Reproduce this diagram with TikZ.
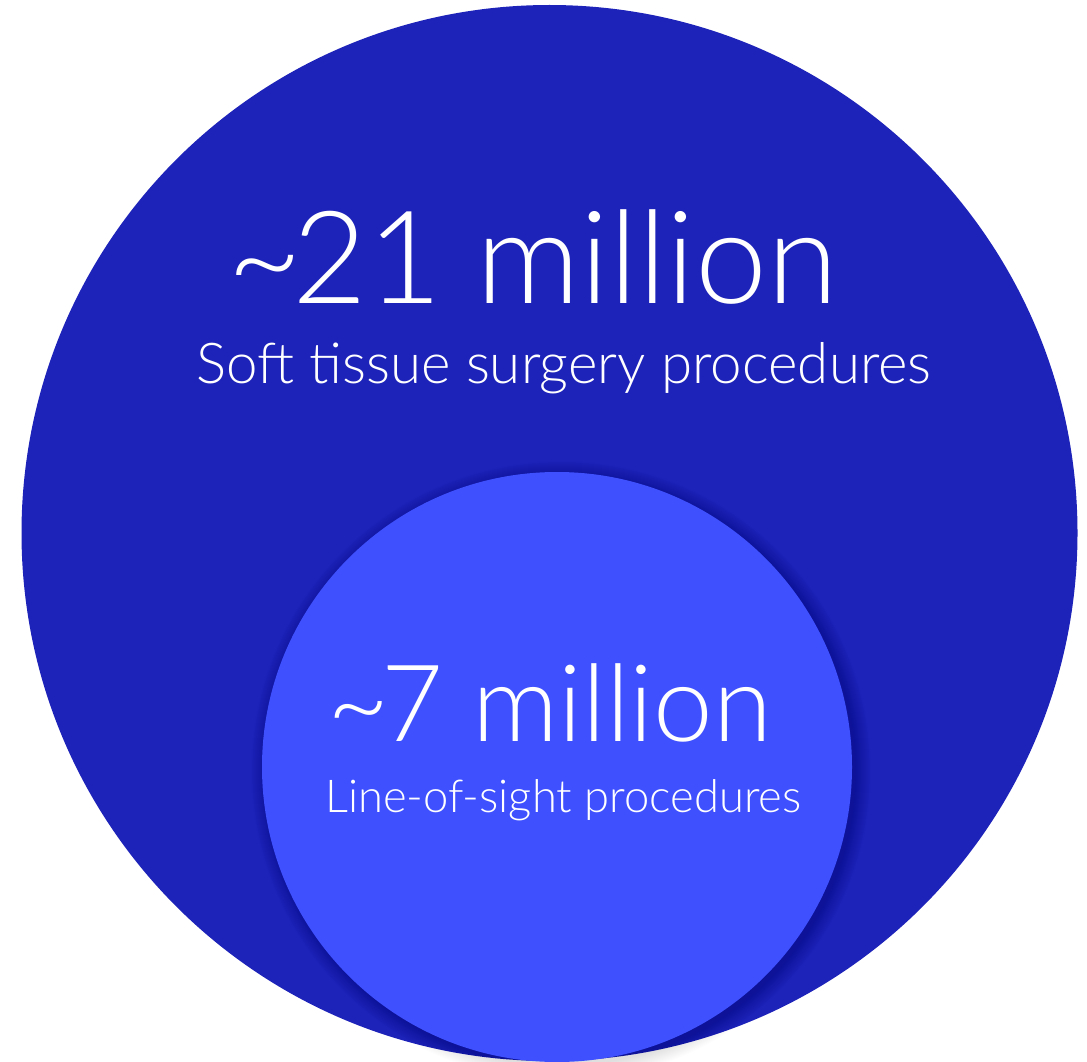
\documentclass[tikz,border=0pt]{standalone}
\usepackage{fontspec}
\setmainfont{Lato}[UprightFont=* Light]
\definecolor{outerblue}{RGB}{29,34,185}
\definecolor{innerblue}{RGB}{63,81,255}
\begin{document}
\begin{tikzpicture}[x=1pt,y=-1pt,
  bigtxt/.style={text=white,inner sep=0pt,anchor=base west},
  numtxt/.style={text=white,inner sep=0pt,anchor=base},
  disc/.style={circle,inner sep=0pt,draw=none}]
\useasboundingbox (0,0) rectangle (1087,1062);
\fill[white] (0,0) rectangle (1087,1062);
\node[disc,fill=outerblue,minimum size=1056pt] (outer) at (549.5,533) {};
\begin{scope}
\clip (0,0) rectangle (1087,1062);
\foreach \k in {1,...,16}{
  \fill[black,opacity=0.007] (561,771) circle ({294+\k});
}
\node[disc,fill=innerblue,minimum size=590pt] (inner) at (557,767) {};
\end{scope}
\node[numtxt,font=\fontsize{129}{129}\selectfont] (big) at (533,303) {{\char"7E}\kern-0.08em 21 million};
\node[bigtxt,font=\fontsize{56.4}{56.4}\selectfont] (bigsub) at (196,383) {Soft tissue surgery procedures};
\node[numtxt,font=\fontsize{107}{107}\selectfont] (small) at (550,741) {{\char"7E}\kern-0.08em 7 million};
\node[bigtxt,font=\fontsize{45.3}{45.3}\selectfont] (smallsub) at (325,812) {Line-of-sight procedures};
\end{tikzpicture}
\end{document}
